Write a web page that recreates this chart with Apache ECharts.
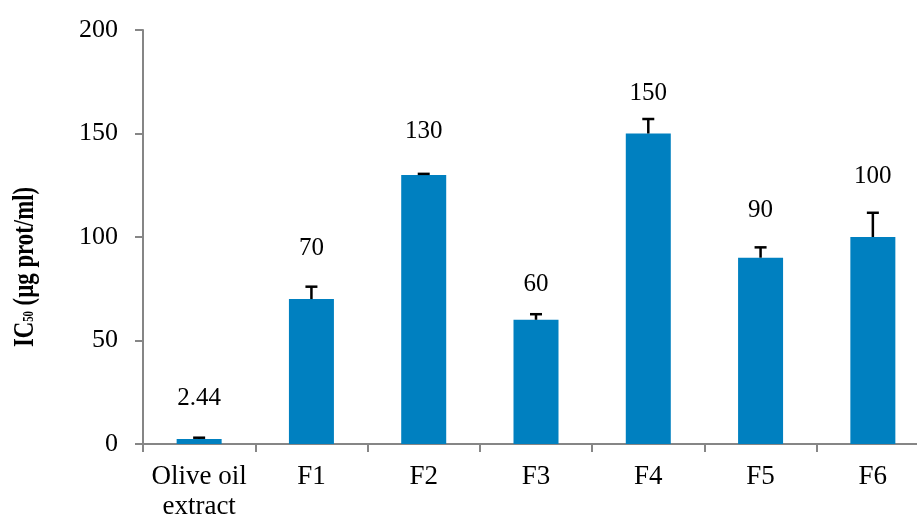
<!DOCTYPE html>
<html>
<head>
<meta charset="utf-8">
<script src="https://cdn.jsdelivr.net/npm/echarts@6/dist/echarts.min.js"></script>
<style>
  html, body { margin: 0; padding: 0; background: #ffffff; }
  #chart { width: 917px; height: 517px; }
</style>
</head>
<body>
<div id="chart"></div>
<script>
// IC50 values per sample, with the upper error (SD) of each
var categories = ['Olive oil\nextract', 'F1', 'F2', 'F3', 'F4', 'F5', 'F6'];
var ic50Values = [2.44, 70, 130, 60, 150, 90, 100];
var ic50Errors = [0.6, 6, 0.5, 2.7, 7, 5, 11.7];
var yTicks = [0, 50, 100, 150, 200];

// how far (px) each value label sits above its error cap
var labelLift = [39, 38, 42, 30, 26, 37, 36];

var serif = '"Liberation Serif", "Times New Roman", serif';
var axisGrey = '#868686';

var errorData = categories.map(function (c, i) {
  return [i, ic50Values[i], ic50Errors[i]];
});

var chart = echarts.init(document.getElementById('chart'), null, { renderer: 'canvas' });

chart.setOption({
  animation: false,
  backgroundColor: '#ffffff',
  grid: { left: 143, top: 30, width: 786, height: 414, outerBoundsMode: 'none', containLabel: false },
  xAxis: {
    type: 'category',
    data: categories,
    boundaryGap: true,
    axisLine: { lineStyle: { color: axisGrey, width: 2 } },
    axisTick: { show: true, alignWithLabel: false, length: 8, lineStyle: { color: axisGrey, width: 2 } },
    axisLabel: {
      color: '#000000', fontFamily: serif, fontSize: 27, lineHeight: 30, margin: 18,
      interval: 0
    },
    splitLine: { show: false }
  },
  yAxis: {
    type: 'value',
    min: yTicks[0],
    max: yTicks[yTicks.length - 1],
    interval: 50,
    axisLine: { show: true, lineStyle: { color: axisGrey, width: 2 } },
    axisTick: { show: true, length: 8, lineStyle: { color: axisGrey, width: 2 } },
    axisLabel: { color: '#000000', fontFamily: serif, fontSize: 26, margin: 25 },
    splitLine: { show: false }
  },
  graphic: [{
    // axis title, set in a narrow bold face running bottom to top
    type: 'text',
    x: 25,
    y: 267,
    rotation: Math.PI / 2,
    scaleX: 0.76,
    style: {
      text: '{b|IC}{s|50}{b| (µg prot/ml)}',
      align: 'center',
      verticalAlign: 'middle',
      rich: {
        b: { fontFamily: serif, fontSize: 30, fontWeight: 'bold', fill: '#000000' },
        s: { fontFamily: serif, fontSize: 14, fontWeight: 'bold', fill: '#000000', verticalAlign: 'bottom', padding: [0, 0, 4, 0] }
      }
    }
  }],
  series: [
    {
      type: 'bar',
      data: ic50Values,
      barWidth: 45,
      itemStyle: { color: '#0080c0' }
    },
    {
      type: 'custom',
      data: errorData,
      encode: { x: 0, y: 1 },
      z: 5,
      clip: false,
      renderItem: function (params, api) {
        var idx = api.value(0);
        var val = api.value(1);
        var err = api.value(2);
        var base = api.coord([idx, val]);
        var top = api.coord([idx, val + err]);
        var x = base[0];
        var capHalf = 6;
        var lineStyle = { stroke: '#000000', lineWidth: 2.5 };
        return {
          type: 'group',
          children: [
            { type: 'line', shape: { x1: x, y1: base[1], x2: x, y2: top[1] }, style: lineStyle },
            { type: 'line', shape: { x1: x - capHalf, y1: top[1], x2: x + capHalf, y2: top[1] }, style: lineStyle },
            {
              type: 'text',
              x: x,
              y: top[1] - labelLift[idx],
              style: {
                text: String(val),
                align: 'center',
                verticalAlign: 'middle',
                fontFamily: serif,
                fontSize: 25,
                fill: '#000000'
              }
            }
          ]
        };
      }
    }
  ]
});
</script>
</body>
</html>
